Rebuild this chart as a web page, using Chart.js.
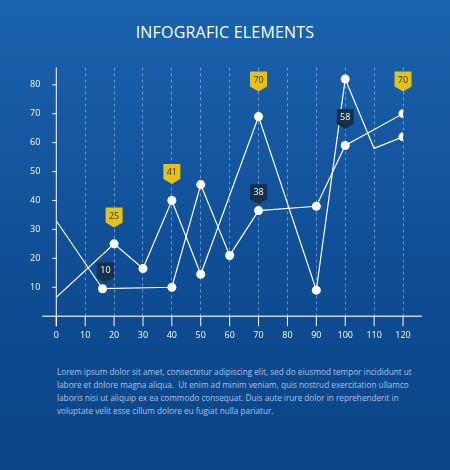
<!DOCTYPE html>
<html><head><meta charset="utf-8">
<script src="https://cdn.jsdelivr.net/npm/chart.js@4"></script>
<style>
body{margin:0;width:450px;height:470px;overflow:hidden;background:linear-gradient(#1b63ad,#0e4c94 60%,#0c4585);font-family:"Open Sans",sans-serif;position:relative}
#title{position:absolute;top:21px;width:100%;text-align:center;color:#fff;font-size:16px;letter-spacing:0.2px}
#wrap{position:absolute;left:0;top:54px;width:450px;height:301px}
#txt{position:absolute;left:57px;top:365px;width:362px;color:#a9c4e6;font-size:8.2px;line-height:13px}
</style></head><body>
<div id="title">INFOGRAFIC ELEMENTS</div>
<div id="wrap"><canvas id="c"></canvas></div>
<div id="txt">Lorem ipsum dolor sit amet, consectetur adipiscing elit, sed do eiusmod tempor incididunt ut labore et dolore magna aliqua.&nbsp; Ut enim ad minim veniam, quis nostrud exercitation ullamco laboris nisi ut aliquip ex ea commodo consequat. Duis aute irure dolor in reprehenderit in voluptate velit esse cillum dolore eu fugiat nulla pariatur.</div>
<script>
const xTicks = [0,10,20,30,40,50,60,70,80,90,100,110,120];
const yTicks = [10,20,30,40,50,60,70,80];
const seriesAX = [0,20,30,40,50,70,90,100,110,120];
const seriesAY = [6.5,25,16.5,40,14.5,69,9,82,58,62];
const seriesADots = [0,1,1,1,1,1,1,1,0,1];
const seriesBX = [0,16,40,50,60,70,90,100,120];
const seriesBY = [33,9.5,10,45.5,21,36.5,38,59,70];
const seriesBDots = [0,1,1,1,1,1,1,1,1];
const flagX = [20,40,70,120,17,70,100];
const flagY = [35,50,82,82,16,43,69];
const flagText = ['25','41','70','70','10','38','58'];
const flagYellow = [1,1,1,1,0,0,0];

const toPts = (xs, ys) => xs.map((x,i) => ({x:x, y:ys[i]}));

const flags = {
  id:'flags',
  afterDatasetsDraw(chart){
    const ctx = chart.ctx, xs = chart.scales.x, ys = chart.scales.y;
    flagX.forEach((v,i) => {
      const cx = xs.getPixelForValue(v), cy = ys.getPixelForValue(flagY[i]);
      const w = 17, h = 15;
      ctx.fillStyle = flagYellow[i] ? '#e2c21b' : '#14304d';
      ctx.beginPath();
      ctx.moveTo(cx-w/2, cy-h/2); ctx.lineTo(cx+w/2, cy-h/2);
      ctx.lineTo(cx+w/2, cy+h/2); ctx.lineTo(cx, cy+h/2+5); ctx.lineTo(cx-w/2, cy+h/2);
      ctx.closePath(); ctx.fill();
      ctx.fillStyle = flagYellow[i] ? '#3a3000' : '#ffffff';
      ctx.font = '9px "Open Sans"';
      ctx.textAlign = 'center'; ctx.textBaseline = 'middle';
      ctx.fillText(flagText[i], cx, cy+1);
    });
  }
};

const axes = {
  id:'axes',
  beforeDatasetsDraw(chart){
    const ctx = chart.ctx, xs = chart.scales.x, ys = chart.scales.y;
    const y0 = ys.getPixelForValue(0), x0 = xs.getPixelForValue(0);
    ctx.save();
    ctx.strokeStyle = 'rgba(255,255,255,0.75)'; ctx.lineWidth = 1.5;
    ctx.beginPath(); ctx.moveTo(xs.left-14, y0); ctx.lineTo(xs.right+19, y0); ctx.stroke();
    ctx.strokeStyle = '#ffffff'; ctx.lineWidth = 1;
    ctx.beginPath(); ctx.moveTo(x0, ys.top); ctx.lineTo(x0, y0+10); ctx.stroke();
    xTicks.forEach(t => { const px = xs.getPixelForValue(t);
      ctx.beginPath(); ctx.moveTo(px, y0); ctx.lineTo(px, y0+10); ctx.stroke(); });
    yTicks.forEach(t => { const py = ys.getPixelForValue(t);
      ctx.beginPath(); ctx.moveTo(x0-4, py); ctx.lineTo(x0, py); ctx.stroke(); });
    ctx.restore();
  }
};

const ds = (xs, ys, dots) => ({
  data: toPts(xs, ys),
  borderColor:'#ffffff', borderWidth:1.2,
  pointRadius: dots.map(d => d ? 4.5 : 0),
  pointBackgroundColor:'#ffffff', pointBorderWidth:0
});

new Chart(document.getElementById('c'), {
  type:'line',
  data:{ datasets:[ ds(seriesAX, seriesAY, seriesADots), ds(seriesBX, seriesBY, seriesBDots) ] },
  plugins:[axes, flags],
  options:{
    responsive:true, maintainAspectRatio:false, animation:false,
    layout:{padding:{left:22, right:47, top:0, bottom:0}},
    plugins:{legend:{display:false}, tooltip:{enabled:false}},
    scales:{
      x:{type:'linear', min:0, max:120,
        afterBuildTicks: s => { s.ticks = xTicks.map(v => ({value:v})); },
        border:{display:false, dash:[3,3]},
        grid:{color:'rgba(255,255,255,0.4)', drawTicks:false,
              lineWidth: c => (c.tick && c.tick.value === 0) ? 0 : 1},
        ticks:{color:'#ffffff', font:{size:9, family:'"Open Sans"'}, padding:14, maxRotation:0}},
      y:{min:0, max:86,
        afterBuildTicks: s => { s.ticks = yTicks.map(v => ({value:v})); },
        border:{display:false}, grid:{display:false},
        ticks:{color:'#ffffff', font:{size:9, family:'"Open Sans"'}, padding:8}}
    }
  }
});
</script>
</body></html>
